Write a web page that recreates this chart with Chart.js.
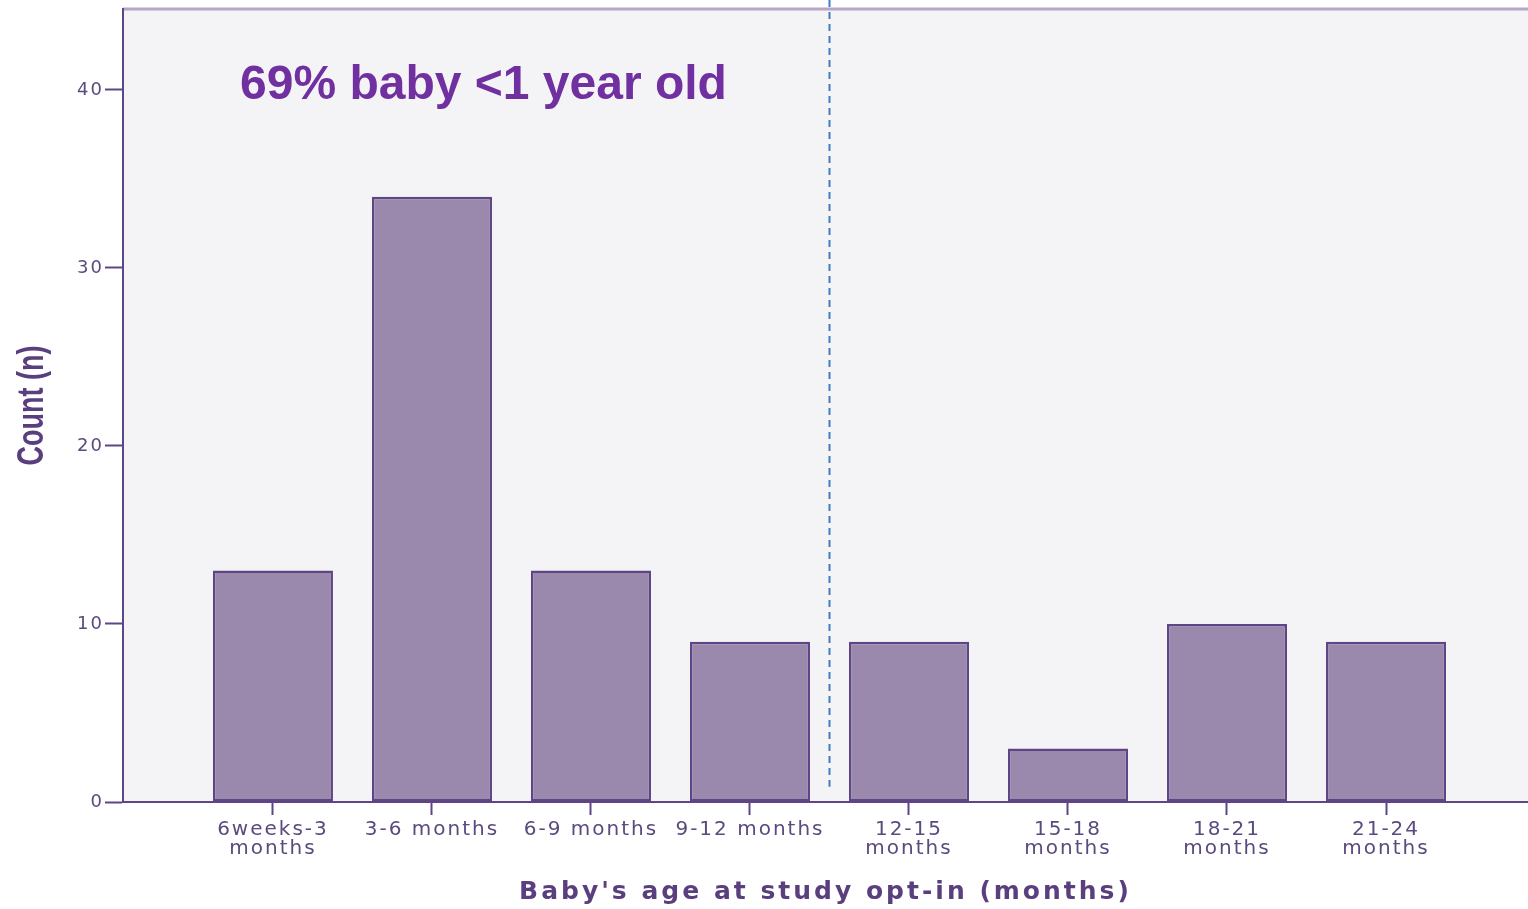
<!DOCTYPE html>
<html>
<head>
<meta charset="utf-8">
<script src="https://cdn.jsdelivr.net/npm/chart.js@4/dist/chart.umd.min.js"></script>
<style>
  html, body { margin: 0; padding: 0; background: #ffffff; }
  #wrap { width: 1528px; height: 909px; }
</style>
</head>
<body>
<div id="wrap"><canvas id="ageChart" width="1528" height="909"></canvas></div>
<script>
// données
const categories = [
    ['6weeks-3', 'months'], '3-6 months', '6-9 months', '9-12 months',
    ['12-15', 'months'], ['15-18', 'months'], ['18-21', 'months'], ['21-24', 'months']
];
const counts = [13, 34, 13, 9, 9, 3, 10, 9];
const yTicks = [0, 10, 20, 30, 40];
const noteText = '69% baby <1 year old';
const dividerAt = 3.5; // entre 9-12 et 12-15 mois

const purpleDark = '#5e4585';
const purpleText = '#5b4a7e';

// espacement des lettres / compression par titre d'axe
function styleTitle(scale, spacing, squeeze) {
    if (scale._styled) return;
    const orig = scale.drawTitle;
    scale.drawTitle = function (...args) {
        const c = this.ctx;
        const prev = c.letterSpacing;
        c.save();
        c.letterSpacing = spacing;
        if (squeeze) {
            // titre vertical un peu condensé, comme l'original
            const cy = (this.top + this.bottom) / 2;
            c.translate(0, cy);
            c.scale(1, squeeze);
            c.translate(0, -cy);
        }
        orig.apply(this, args);
        c.restore();
        c.letterSpacing = prev;
    };
    scale._styled = true;
}

const plotBackground = {
    id: 'plotBackground',
    beforeDraw(chart) {
        const { ctx, chartArea: a } = chart;
        styleTitle(chart.scales.x, '3px', null);
        styleTitle(chart.scales.y, '0px', 0.75);
        ctx.letterSpacing = '2px';
        ctx.save();
        ctx.fillStyle = '#f4f4f7';
        ctx.fillRect(a.left, a.top, a.right - a.left, a.bottom - a.top);
        // bord supérieur
        ctx.strokeStyle = '#b3a6c9';
        ctx.lineWidth = 3;
        ctx.beginPath();
        ctx.moveTo(a.left, a.top);
        ctx.lineTo(a.right, a.top);
        ctx.stroke();
        ctx.restore();
    },
    afterDraw(chart) {
        const { ctx, chartArea: a, scales } = chart;
        ctx.save();
        ctx.letterSpacing = '0px';
        // ligne pointillée (1 an)
        const x = Math.round(scales.x.getPixelForValue(dividerAt)) + 0.5;
        ctx.strokeStyle = '#3f7cc0';
        ctx.lineWidth = 2;
        ctx.setLineDash([7, 5]);
        ctx.beginPath();
        ctx.moveTo(x, 0);
        ctx.lineTo(x, scales.y.getPixelForValue(0.85));
        ctx.stroke();
        ctx.setLineDash([]);
        // annotation
        ctx.fillStyle = '#7030a0';
        ctx.font = 'bold 48px "Liberation Sans", Arial, sans-serif';
        ctx.textBaseline = 'alphabetic';
        ctx.fillText(noteText, a.left + 117, scales.y.getPixelForValue(39.5));
        ctx.restore();
    }
};

new Chart(document.getElementById('ageChart'), {
    type: 'bar',
    data: {
        datasets: [{
            data: counts.map((v, i) => ({ x: i, y: v })),
            backgroundColor: '#9a89ad',
            borderColor: purpleDark,
            borderWidth: 2.5,
            borderSkipped: false,
            barPercentage: 0.755,
            categoryPercentage: 1
        }]
    },
    options: {
        responsive: false,
        animation: false,
        layout: { padding: { top: 9, right: 0, left: 0, bottom: 0 } },
        plugins: {
            legend: { display: false },
            tooltip: { enabled: false }
        },
        scales: {
            x: {
                type: 'linear',
                offset: false,
                min: -0.943,
                max: 7.893,
                afterBuildTicks: (scale) => {
                    scale.ticks = categories.map((c, i) => ({ value: i }));
                },
                afterFit: (scale) => {
                    scale.height = 107;
                    scale.paddingLeft = 0;
                    scale.paddingRight = 0;
                },
                ticks: {
                    autoSkip: false,
                    maxRotation: 0,
                    padding: 5,
                    color: purpleText,
                    font: { family: '"DejaVu Sans", Verdana, sans-serif', size: 20, lineHeight: 0.97 },
                    callback: (v) => categories[v]
                },
                grid: {
                    offset: false,
                    drawOnChartArea: false,
                    drawTicks: true,
                    tickLength: 13,
                    tickWidth: 2,
                    tickColor: purpleDark
                },
                border: { color: purpleDark, width: 2 },
                title: {
                    display: true,
                    text: "Baby's age at study opt-in (months)",
                    color: '#5a3f7e',
                    font: { family: '"DejaVu Sans", Verdana, sans-serif', size: 25, weight: 'bold', lineHeight: 1.2 },
                    padding: { top: 0, bottom: 2 }
                }
            },
            y: {
                min: 0,
                max: 44.55,
                afterBuildTicks: (scale) => {
                    scale.ticks = yTicks.map(v => ({ value: v }));
                },
                afterFit: (scale) => {
                    scale.width = 123;
                    scale.paddingTop = 0;
                    scale.paddingBottom = 0;
                },
                ticks: {
                    padding: 1,
                    color: purpleText,
                    font: { family: '"DejaVu Sans", Verdana, sans-serif', size: 18 }
                },
                grid: {
                    drawOnChartArea: false,
                    drawTicks: true,
                    tickLength: 18,
                    tickWidth: 2,
                    tickColor: purpleDark
                },
                border: { color: purpleDark, width: 2 },
                title: {
                    display: true,
                    text: 'Count (n)',
                    color: '#5a3f7e',
                    font: { family: '"Liberation Sans", Arial, sans-serif', size: 36, weight: 'bold', lineHeight: 1.2 },
                    padding: { top: 11, bottom: 0 }
                }
            }
        }
    },
    plugins: [plotBackground]
});
</script>
</body>
</html>
